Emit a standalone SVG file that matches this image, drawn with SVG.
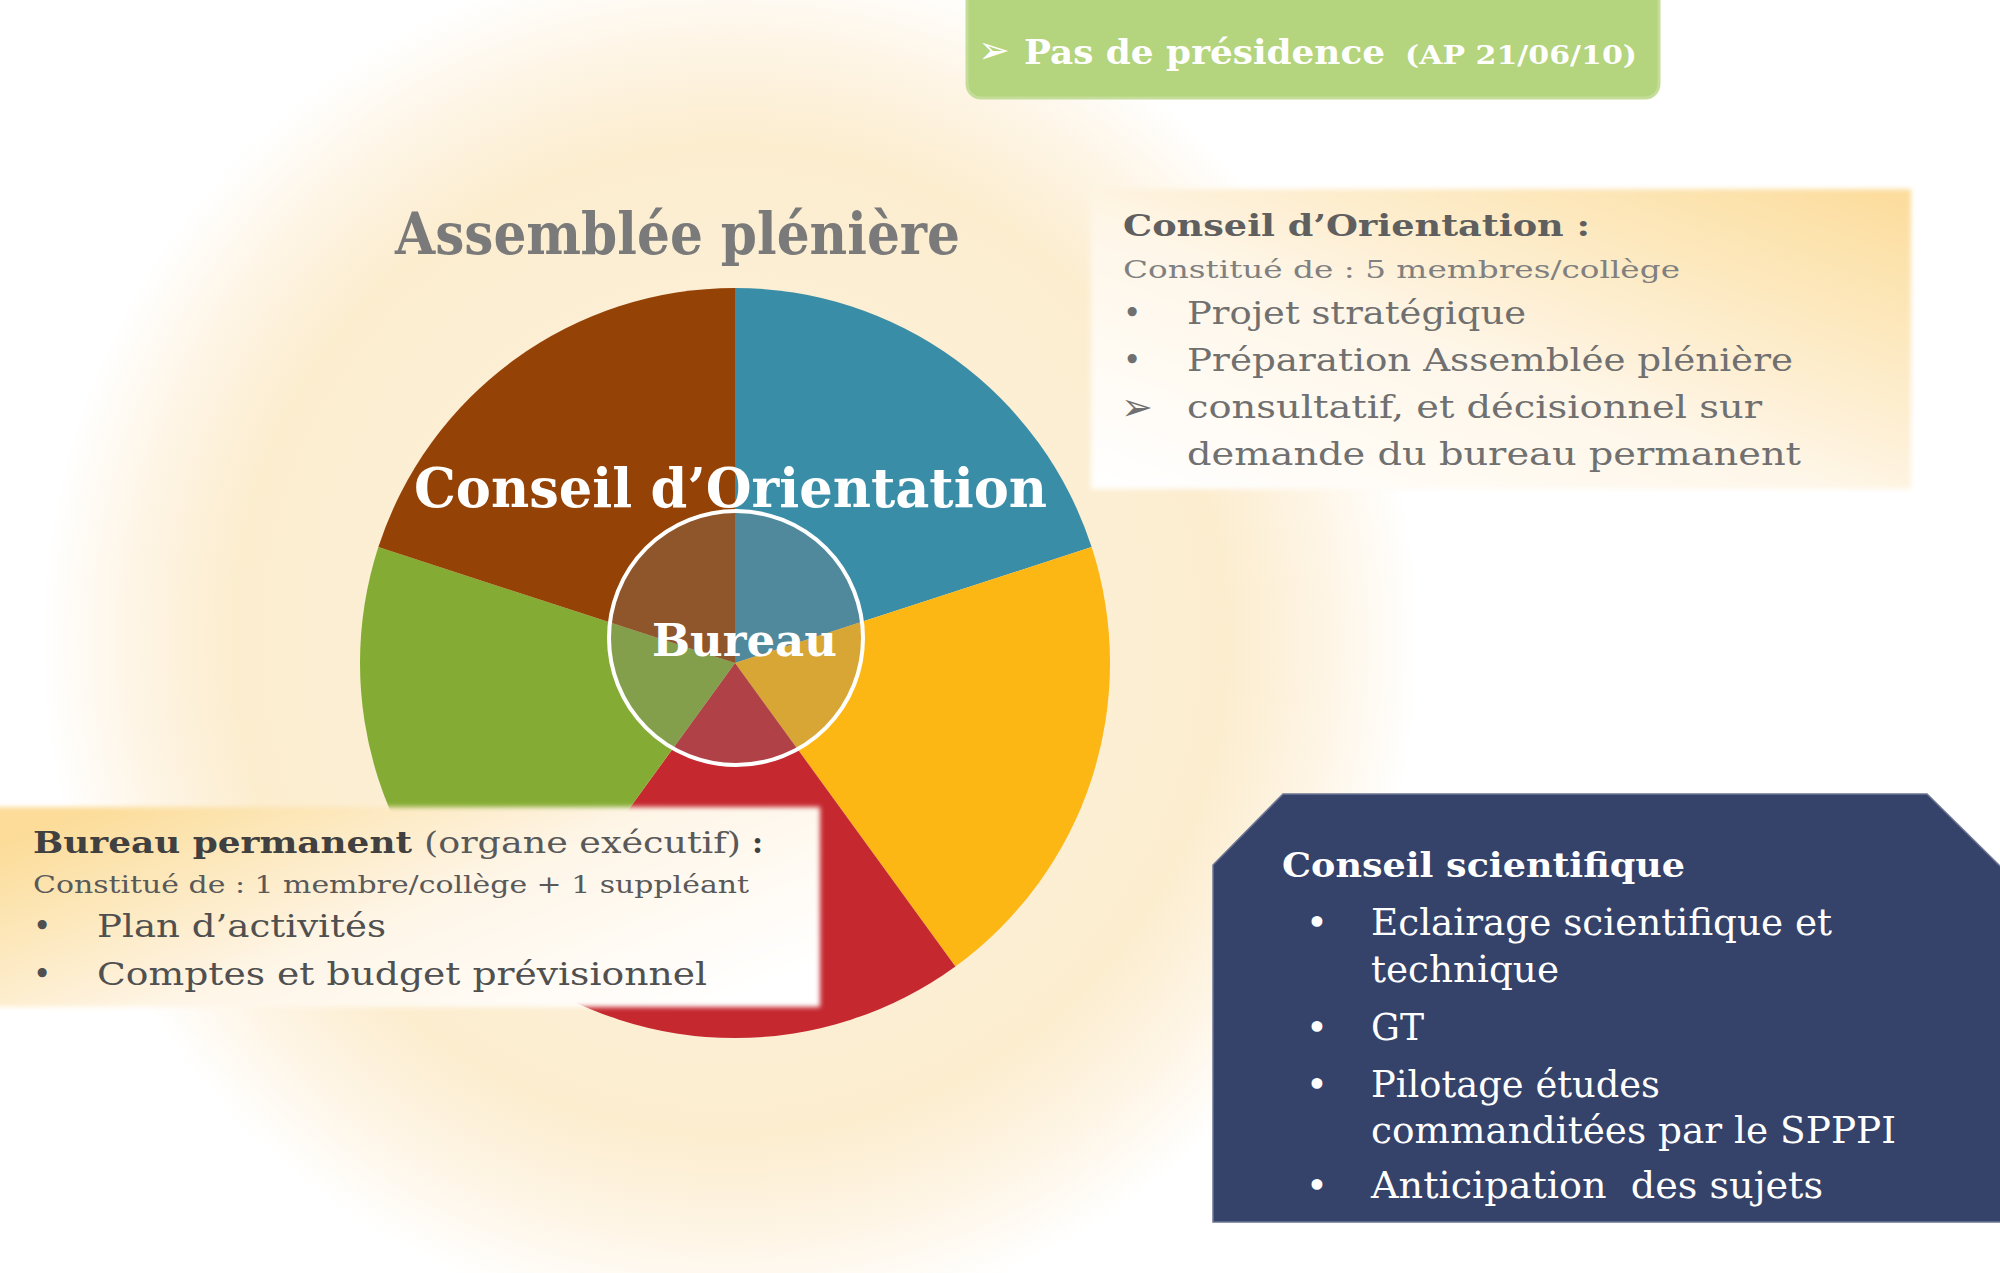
<svg xmlns="http://www.w3.org/2000/svg" width="2000" height="1273" viewBox="0 0 2000 1273">
<defs>
<radialGradient id="glow" cx="730" cy="640" r="690" gradientUnits="userSpaceOnUse">
<stop offset="0" stop-color="#FDF3E1"/>
<stop offset="0.72" stop-color="#FCEDCF"/>
<stop offset="0.87" stop-color="#FEF5E6"/>
<stop offset="1" stop-color="#FFFFFF"/>
</radialGradient>
<linearGradient id="coGrad" x1="0" y1="1" x2="1" y2="0">
<stop offset="0" stop-color="#FFFFFF"/>
<stop offset="0.45" stop-color="#FEF6E8"/>
<stop offset="1" stop-color="#FCDC9A"/>
</linearGradient>
<linearGradient id="bpGrad" x1="0" y1="0.2" x2="1" y2="0.8">
<stop offset="0" stop-color="#FCDC98"/>
<stop offset="0.5" stop-color="#FEF5E6"/>
<stop offset="1" stop-color="#FFFFFF"/>
</linearGradient>
<filter id="soft" x="-5%" y="-10%" width="110%" height="120%">
<feGaussianBlur stdDeviation="2.5"/>
</filter>
</defs>
<style>
.serif{font-family:"DejaVu Serif","Liberation Serif",serif;}
.b{font-weight:bold;}
.sym{font-family:"DejaVu Sans","Noto Sans",sans-serif;}
.w{fill:#FFFFFF;}
.co{fill:#707070;}
.bp{fill:#505050;}
.slice{stroke:none;}
</style>

<g id="background">
<rect x="0" y="0" width="2000" height="1273" fill="#FFFFFF"/>
<circle cx="730" cy="640" r="690" fill="url(#glow)"/>
</g>

<g id="connectors"></g>

<g id="node-assemblee">
<text class="serif b" x="395" y="254" font-size="58" fill="#7A7A7A" textLength="565" lengthAdjust="spacingAndGlyphs">Assemblée plénière</text>
</g>

<g id="node-conseil-orientation-pie">
<path class="slice" fill="#3A8DA7" d="M735,663 L735,288 A375,375 0 0 1 1091.65,547.12 Z"/>
<path class="slice" fill="#FDB714" d="M735,663 L1091.65,547.12 A375,375 0 0 1 955.42,966.38 Z"/>
<path class="slice" fill="#C5282F" d="M735,663 L955.42,966.38 A375,375 0 0 1 514.58,966.38 Z"/>
<path class="slice" fill="#84AC34" d="M735,663 L514.58,966.38 A375,375 0 0 1 378.35,547.12 Z"/>
<path class="slice" fill="#954206" d="M735,663 L378.35,547.12 A375,375 0 0 1 735,288 Z"/>
<text class="serif b w" x="414" y="507" font-size="54" textLength="633" lengthAdjust="spacingAndGlyphs">Conseil d’Orientation</text>
</g>

<g id="node-bureau">
<circle cx="736" cy="638" r="127" fill="#808080" fill-opacity="0.3" stroke="#FFFFFF" stroke-width="4"/>
<text class="serif b w" x="652" y="656" font-size="44" textLength="185" lengthAdjust="spacingAndGlyphs">Bureau</text>
</g>

<g id="node-presidence">
<rect x="967" y="-14" width="692" height="112" rx="14" fill="#B4D47D" stroke="#C4DE99" stroke-width="3"/>
<text class="sym w" x="978" y="63" font-size="38">➢</text>
<text class="serif b w" x="1024" y="64" font-size="34" textLength="361" lengthAdjust="spacingAndGlyphs">Pas de présidence</text>
<text class="serif b w" x="1405" y="64" font-size="26" textLength="232" lengthAdjust="spacingAndGlyphs">(AP 21/06/10)</text>
</g>

<g id="node-co-info">
<rect x="1091" y="189" width="820" height="300" fill="url(#coGrad)" filter="url(#soft)"/>
<text class="serif b" x="1123" y="236" font-size="29" fill="#5F5F5F" textLength="467" lengthAdjust="spacingAndGlyphs">Conseil d’Orientation :</text>
<text class="serif" x="1123" y="278" font-size="25" fill="#808080" textLength="557" lengthAdjust="spacingAndGlyphs">Constitué de : 5 membres/collège</text>
<text class="serif co" x="1123" y="324" font-size="31">•</text>
<text class="serif co" x="1187" y="324" font-size="31" textLength="339" lengthAdjust="spacingAndGlyphs">Projet stratégique</text>
<text class="serif co" x="1123" y="371" font-size="31">•</text>
<text class="serif co" x="1187" y="371" font-size="31" textLength="606" lengthAdjust="spacingAndGlyphs">Préparation Assemblée plénière</text>
<text class="sym co" x="1121" y="420" font-size="38">➢</text>
<text class="serif co" x="1187" y="418" font-size="31" textLength="575" lengthAdjust="spacingAndGlyphs">consultatif, et décisionnel sur</text>
<text class="serif co" x="1187" y="465" font-size="31" textLength="614" lengthAdjust="spacingAndGlyphs">demande du bureau permanent</text>
</g>

<g id="node-bp-info">
<rect x="-10" y="807" width="830" height="200" fill="url(#bpGrad)" filter="url(#soft)"/>
<text class="serif b" x="33" y="853" font-size="30" fill="#404040" textLength="379" lengthAdjust="spacingAndGlyphs">Bureau permanent</text>
<text class="serif" x="424" y="853" font-size="30" fill="#595959" textLength="317" lengthAdjust="spacingAndGlyphs">(organe exécutif)</text>
<text class="serif b" x="752" y="853" font-size="30" fill="#404040">:</text>
<text class="serif" x="33" y="893" font-size="25" fill="#595959" textLength="716" lengthAdjust="spacingAndGlyphs">Constitué de : 1 membre/collège + 1 suppléant</text>
<text class="serif bp" x="33" y="937" font-size="31">•</text>
<text class="serif bp" x="97" y="937" font-size="31" textLength="289" lengthAdjust="spacingAndGlyphs">Plan d’activités</text>
<text class="serif bp" x="33" y="985" font-size="31">•</text>
<text class="serif bp" x="97" y="985" font-size="31" textLength="610" lengthAdjust="spacingAndGlyphs">Comptes et budget prévisionnel</text>
</g>

<g id="node-cs-info">
<polygon points="1283,794 1927,794 2002,868 2002,1222 1213,1222 1213,865" fill="#35426A" stroke="#6C7592" stroke-width="1.5"/>
<text class="serif b w" x="1282" y="877" font-size="34" textLength="403" lengthAdjust="spacingAndGlyphs">Conseil scientifique</text>
<text class="serif w" x="1306" y="935" font-size="37">•</text>
<text class="serif w" x="1371" y="935" font-size="37" textLength="461" lengthAdjust="spacingAndGlyphs">Eclairage scientifique et</text>
<text class="serif w" x="1371" y="982" font-size="37" textLength="188" lengthAdjust="spacingAndGlyphs">technique</text>
<text class="serif w" x="1306" y="1040" font-size="37">•</text>
<text class="serif w" x="1371" y="1040" font-size="37" textLength="53" lengthAdjust="spacingAndGlyphs">GT</text>
<text class="serif w" x="1306" y="1097" font-size="37">•</text>
<text class="serif w" x="1371" y="1097" font-size="37" textLength="289" lengthAdjust="spacingAndGlyphs">Pilotage études</text>
<text class="serif w" x="1371" y="1143" font-size="37" textLength="525" lengthAdjust="spacingAndGlyphs">commanditées par le SPPPI</text>
<text class="serif w" x="1306" y="1198" font-size="37">•</text>
<text class="serif w" x="1371" y="1198" font-size="37" xml:space="preserve" textLength="452" lengthAdjust="spacingAndGlyphs">Anticipation  des sujets</text>
</g>
</svg>
